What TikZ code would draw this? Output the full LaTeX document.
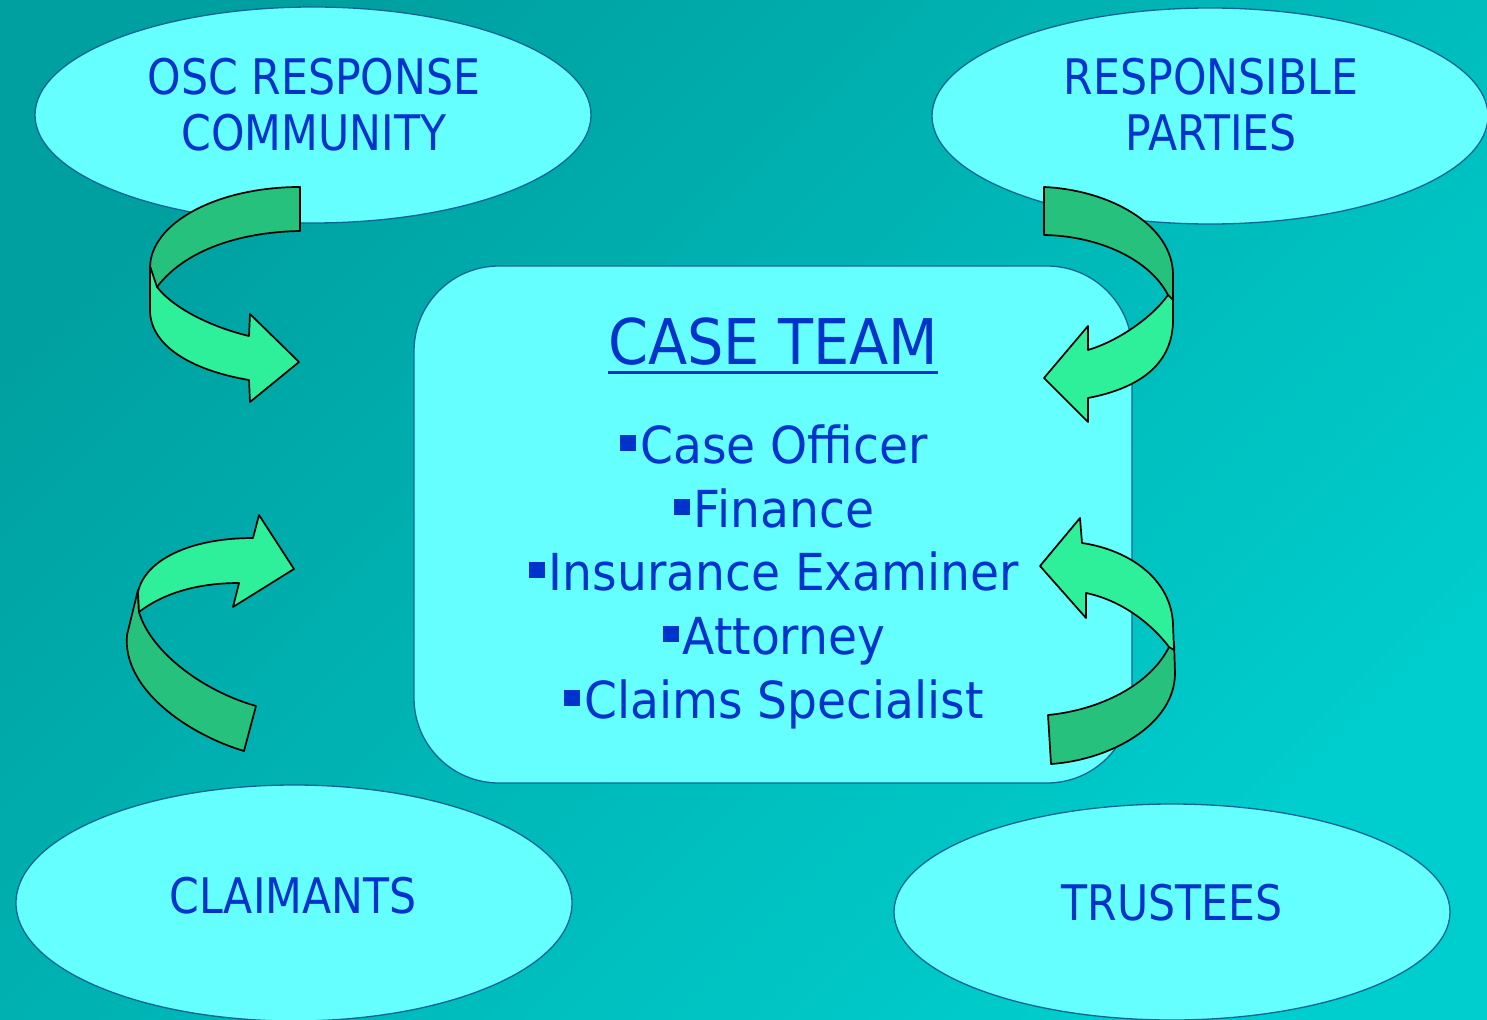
\documentclass[tikz,border=0pt]{standalone}
\usepackage{fontspec}
\setmainfont[FakeStretch=0.87]{DejaVu Sans}
\newfontfamily\itemfont[FakeStretch=0.925]{DejaVu Sans}
\newfontfamily\titlefont[FakeStretch=0.91]{DejaVu Sans}
\usetikzlibrary{shapes.geometric}
\definecolor{bgA}{RGB}{0,160,160}
\definecolor{bgB}{RGB}{0,206,206}
\definecolor{ellfill}{RGB}{102,255,255}
\definecolor{edgecol}{RGB}{16,100,150}
\definecolor{txt}{RGB}{0,51,204}
\definecolor{arrL}{RGB}{46,240,155}
\definecolor{arrD}{RGB}{38,194,125}
\newcommand{\sqbullet}{\rule[0.24em]{0.31em}{0.3em}\hspace{0.08em}}
\begin{document}
\begin{tikzpicture}[x=1pt,y=-1pt,
  bubble/.style={ellipse, draw=edgecol, line width=1.3pt, fill=ellfill, inner sep=0pt, minimum width=556pt, minimum height=216pt},
  lbl/.style={anchor=base, text=txt, inner sep=0pt, font=\fontsize{49}{55}\selectfont},
  item/.style={anchor=base, text=txt, inner sep=0pt, font=\itemfont\fontsize{51}{60}\selectfont},
  arrowlight/.style={fill=arrL, draw=black, line width=1.7pt, line join=round},
  arrowdark/.style={fill=arrD, draw=black, line width=1.7pt, line join=round}]
\useasboundingbox (0,0) rectangle (1487,1019);
\shade[top color=bgA, bottom color=bgB, shading angle=45] (0,0) rectangle (1487,1019);

% ellipses
\node[bubble] (osc) at (313,115) {};
\node[bubble] (rp) at (1210,116) {};
\node[bubble, minimum height=236pt] (cl) at (294,903) {};
\node[bubble] (tr) at (1172,912) {};

% case team box
\node[draw=edgecol, line width=1.3pt, fill=ellfill, rounded corners=85pt, minimum width=718pt, minimum height=517pt, inner sep=0pt] (team) at (773,524.5) {};

% labels
\node[lbl] (oscA) at (314,95) {OSC RESPONSE};
\node[lbl] (oscB) at (314,151) {COMMUNITY};
\node[lbl] (rpA) at (1211,95) {RESPONSIBLE};
\node[lbl] (rpB) at (1211,151) {PARTIES};
\node[lbl] (clA) at (293,913) {CLAIMANTS};
\node[lbl] (trA) at (1172,920) {TRUSTEES};

\node[anchor=base, text=txt, inner sep=0pt, font=\titlefont\fontsize{63}{70}\selectfont] (title) at (773,364) {CASE TEAM};
\draw[txt, line width=3pt] ([yshift=-8pt]title.base west) -- ([yshift=-8pt]title.base east);

\node[item] (i1) at (774,463) {\sqbullet Case Officer};
\node[item] (i2) at (774,527) {\sqbullet Finance};
\node[item] (i3) at (774,590) {\sqbullet Insurance Examiner};
\node[item] (i4) at (774,654) {\sqbullet Attorney};
\node[item] (i5) at (774,718) {\sqbullet Claims Specialist};

% arrow top-left
\filldraw[arrowdark] (300,187) .. controls (217,187) and (150,223) .. (150,268) -- (150,282) -- (157,287) .. controls (185,250) and (240,232) .. (300,231) -- cycle;
\filldraw[arrowlight] (157,287) .. controls (175,310) and (215,328) .. (249,336) -- (250,314) -- (299,362) -- (250,402) -- (249,380) .. controls (190,370) and (150,345) .. (150,310) -- (150,266) -- cycle;

% arrow bottom-left
\filldraw[arrowdark] (138,590) -- (127,635) .. controls (122,690) and (190,735) .. (244,751) -- (256,706) .. controls (200,690) and (150,650) .. (139,612) -- cycle;
\filldraw[arrowlight] (139,612) .. controls (165,592) and (200,583) .. (239,583) -- (233,607) -- (294,569) -- (259,515) -- (253,538) .. controls (190,538) and (145,560) .. (138,592) -- cycle;

% arrow top-right
\filldraw[arrowdark] (1044,187) .. controls (1110,190) and (1173,225) .. (1173,275) -- (1173,300) -- (1168,295) .. controls (1150,260) and (1100,236) .. (1044,235) -- cycle;
\filldraw[arrowlight] (1168,295) .. controls (1150,320) and (1115,342) .. (1088,350) -- (1088,326) -- (1044,378) -- (1088,422) -- (1088,398) .. controls (1130,390) and (1173,370) .. (1173,320) -- (1173,300) -- cycle;

% arrow bottom-right
\filldraw[arrowdark] (1174,642) -- (1175,673) .. controls (1175,725) and (1110,760) .. (1051,764) -- (1048,715) .. controls (1100,710) and (1150,685) .. (1169,647) -- cycle;
\filldraw[arrowlight] (1169,647) .. controls (1150,622) and (1120,600) .. (1086,593) -- (1086,618) -- (1040,566) -- (1080,518) -- (1082,543) .. controls (1130,550) and (1172,580) .. (1173,625) -- (1174,650) -- cycle;
\end{tikzpicture}
\end{document}
